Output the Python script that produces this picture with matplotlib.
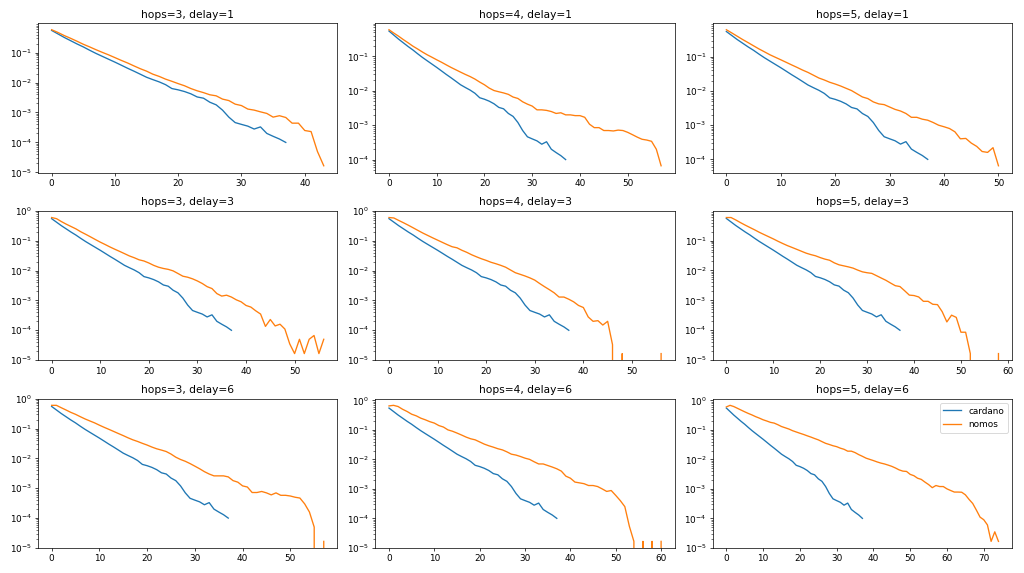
import numpy as np
import matplotlib
matplotlib.use("Agg")
import matplotlib.pyplot as plt

hops_list = [3, 4, 5]
delay_list = [1, 3, 6]

# same baseline in every panel
cardano = [0.55, 0.42, 0.32, 0.25, 0.195, 0.155, 0.12, 0.094, 0.075, 0.06,
           0.048, 0.038, 0.03, 0.024, 0.019, 0.015, 0.0125, 0.0105, 0.0085, 0.0063,
           0.0057, 0.005, 0.0042, 0.0033, 0.003, 0.0022, 0.0018, 0.0012, 0.0007, 0.00046,
           0.0004, 0.00035, 0.00028, 0.00033, 0.0002, 0.00016, 0.00013, 0.0001]

nomos_h3_d1 = [0.58, 0.47, 0.37, 0.30, 0.24, 0.19, 0.155, 0.125, 0.102, 0.084,
               0.068, 0.055, 0.045, 0.036, 0.029, 0.024, 0.019, 0.016, 0.013, 0.011,
               0.0092, 0.0078, 0.0063, 0.0053, 0.0046, 0.0039, 0.0036, 0.0028, 0.0025, 0.0019,
               0.0017, 0.0013, 0.0012, 0.00105, 0.00093, 0.0007, 0.00078, 0.00068, 0.00044, 0.00044,
               0.00025, 0.00023, 0.00005, 1.66e-05]

nomos_h4_d1 = [0.6, 0.48, 0.39, 0.31, 0.25, 0.2, 0.165, 0.135, 0.112, 0.095,
               0.08, 0.068, 0.057, 0.048, 0.041, 0.035, 0.03, 0.026, 0.022, 0.018,
               0.015, 0.012, 0.0102, 0.0094, 0.0087, 0.0079, 0.0066, 0.006, 0.0048, 0.0041,
               0.0036, 0.0028, 0.0028, 0.0027, 0.0025, 0.0022, 0.0023, 0.002, 0.002, 0.0019,
               0.0019, 0.0017, 0.00107, 0.00085, 0.00085, 0.0007, 0.0007, 0.00068, 0.00072, 0.0007,
               0.00062, 0.00053, 0.00045, 0.00039, 0.00037, 0.00034, 0.0002, 0.000066]

nomos_h5_d1 = [0.62, 0.5, 0.4, 0.32, 0.26, 0.21, 0.17, 0.14, 0.115, 0.097,
               0.082, 0.069, 0.058, 0.049, 0.041, 0.035, 0.029, 0.024, 0.021, 0.018,
               0.016, 0.014, 0.012, 0.0103, 0.0083, 0.0067, 0.006, 0.0048, 0.0042, 0.004,
               0.0034, 0.0029, 0.0026, 0.0022, 0.0017, 0.0017, 0.0015, 0.0014, 0.0012, 0.001,
               0.0009, 0.0008, 0.00064, 0.0004, 0.00041, 0.0003, 0.00024, 0.00017, 0.00016, 0.00022,
               0.000065]

nomos_h3_d3 = [0.6, 0.55, 0.44, 0.36, 0.3, 0.25, 0.2, 0.165, 0.135, 0.11,
               0.09, 0.075, 0.062, 0.052, 0.044, 0.037, 0.031, 0.027, 0.023, 0.021,
               0.018, 0.015, 0.013, 0.0118, 0.011, 0.0098, 0.008, 0.0065, 0.006, 0.0053,
               0.0045, 0.0037, 0.0029, 0.0025, 0.0017, 0.0014, 0.0015, 0.0013, 0.00105, 0.0009,
               0.00068, 0.0006, 0.00045, 0.00035, 0.000135, 0.00023, 0.00014, 0.00016, 0.00011, 0.000035,
               1.66e-05, 0.00005, 1.66e-05, 0.00005, 0.000067, 1.66e-05, 0.00005]

nomos_h4_d3 = [0.6, 0.58, 0.48, 0.4, 0.33, 0.27, 0.22, 0.18, 0.15, 0.125,
               0.105, 0.088, 0.074, 0.063, 0.058, 0.048, 0.041, 0.034, 0.029, 0.025,
               0.022, 0.019, 0.017, 0.015, 0.013, 0.0105, 0.0085, 0.0075, 0.0066, 0.0057,
               0.0048, 0.0037, 0.0029, 0.0023, 0.0018, 0.0013, 0.0013, 0.0011, 0.0009, 0.00068,
               0.00058, 0.00028, 0.0002, 0.00021, 0.00015, 0.0002, 0.000033, 0, 1.66e-05, 0,
               0, 0, 0, 0, 0, 0, 1.66e-05]

nomos_h5_d3 = [0.59, 0.59, 0.49, 0.40, 0.33, 0.275, 0.23, 0.19, 0.16, 0.135,
               0.114, 0.095, 0.08, 0.068, 0.059, 0.051, 0.044, 0.038, 0.034, 0.031,
               0.027, 0.024, 0.022, 0.018, 0.0155, 0.0143, 0.0132, 0.012, 0.0103, 0.009,
               0.0084, 0.008, 0.0067, 0.0056, 0.0047, 0.0038, 0.0031, 0.0029, 0.0021, 0.0015,
               0.00145, 0.0013, 0.00093, 0.00093, 0.00074, 0.00072, 0.00042, 0.00019, 0.00032, 0.00027,
               0.000086, 0.000086, 1.66e-05, 0, 0, 0, 0, 0, 1.66e-05]

nomos_h3_d6 = [0.6, 0.6, 0.5, 0.42, 0.35, 0.3, 0.25, 0.21, 0.18, 0.155,
               0.13, 0.11, 0.094, 0.08, 0.068, 0.058, 0.049, 0.042, 0.037, 0.032,
               0.028, 0.024, 0.021, 0.019, 0.017, 0.014, 0.011, 0.0092, 0.008, 0.0067,
               0.0055, 0.0045, 0.0036, 0.003, 0.0026, 0.0026, 0.0026, 0.0024, 0.0018, 0.0016,
               0.0012, 0.0011, 0.00072, 0.00072, 0.00078, 0.0007, 0.0006, 0.0007, 0.00058, 0.00058,
               0.00055, 0.0005, 0.00047, 0.0003, 0.00016, 0.00005, 0, 1.66e-05]

nomos_h4_d6 = [0.65, 0.68, 0.62, 0.5, 0.42, 0.34, 0.3, 0.25, 0.22, 0.19,
               0.17, 0.14, 0.125, 0.1, 0.09, 0.078, 0.067, 0.057, 0.05, 0.046,
               0.039, 0.033, 0.029, 0.026, 0.023, 0.021, 0.018, 0.015, 0.014, 0.0125,
               0.011, 0.01, 0.0083, 0.007, 0.007, 0.0062, 0.0055, 0.0048, 0.004, 0.0027,
               0.0023, 0.0017, 0.0016, 0.0015, 0.0013, 0.0013, 0.0012, 0.001, 0.00082, 0.00088,
               0.0006, 0.0004, 0.00025, 0.000054, 1.66e-05, 0, 1.66e-05, 0, 1.66e-05, 0,
               1.66e-05]

nomos_h5_d6 = [0.6, 0.68, 0.62, 0.54, 0.47, 0.41, 0.36, 0.32, 0.28, 0.25,
               0.22, 0.2, 0.18, 0.17, 0.15, 0.13, 0.118, 0.107, 0.094, 0.085,
               0.077, 0.07, 0.063, 0.057, 0.051, 0.046, 0.04, 0.035, 0.032, 0.029,
               0.027, 0.024, 0.022, 0.019, 0.019, 0.017, 0.0145, 0.0127, 0.011, 0.01,
               0.0091, 0.0082, 0.0075, 0.007, 0.0064, 0.0058, 0.0051, 0.0044, 0.004, 0.0039,
               0.0031, 0.0028, 0.0023, 0.0021, 0.0017, 0.0014, 0.0011, 0.0013, 0.0012, 0.0012,
               0.001, 0.00088, 0.00078, 0.00078, 0.00077, 0.00063, 0.00044, 0.00032, 0.00019, 0.00011,
               0.00009, 0.00006, 1.66e-05, 0.000035, 1.66e-05]

nomos = {
    (3, 1): nomos_h3_d1, (4, 1): nomos_h4_d1, (5, 1): nomos_h5_d1,
    (3, 3): nomos_h3_d3, (4, 3): nomos_h4_d3, (5, 3): nomos_h5_d3,
    (3, 6): nomos_h3_d6, (4, 6): nomos_h4_d6, (5, 6): nomos_h5_d6,
}

fig, axes = plt.subplots(nrows=3, ncols=3, figsize=(16, 573 / 64), dpi=64)

for row, delay in enumerate(delay_list):
    for col, hops in enumerate(hops_list):
        ax = axes[row][col]
        y_nomos = nomos[(hops, delay)]
        ax.plot(np.arange(len(cardano)), cardano, label="cardano")
        ax.plot(np.arange(len(y_nomos)), y_nomos, label="nomos")
        ax.set_yscale("log")
        ax.set_title(f"hops={hops}, delay={delay}")

axes[2][2].legend(loc="upper right")

fig.tight_layout()
fig.savefig("out.png", dpi=64)
